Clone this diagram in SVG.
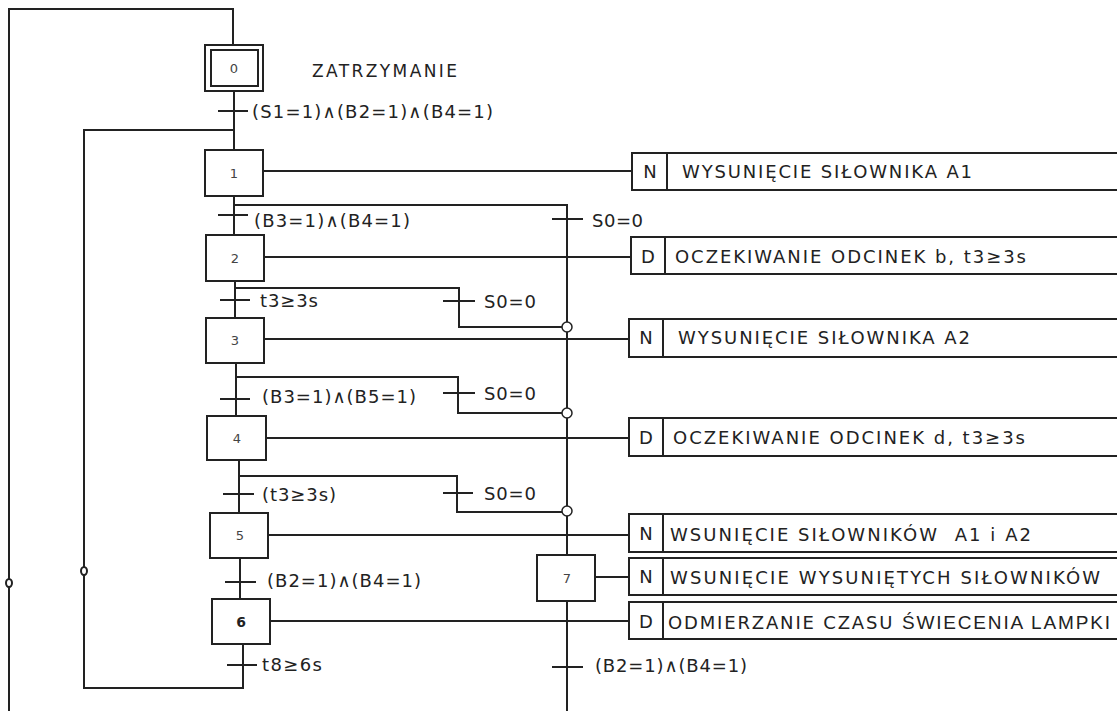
<svg xmlns="http://www.w3.org/2000/svg" width="1117" height="711" viewBox="0 0 1117 711">
<style>
.ln{fill:none;stroke:#222;stroke-width:2}
.bx{fill:#fff;stroke:#222;stroke-width:2}
.num{font-family:"DejaVu Sans",Verdana,sans-serif;font-size:13px;fill:#444;text-anchor:middle}
.lbl{font-family:"DejaVu Sans",Verdana,sans-serif;font-size:18px;fill:#222}
.act{font-family:"DejaVu Sans",Verdana,sans-serif;font-size:18px;fill:#222}
.q{font-family:"DejaVu Sans",Verdana,sans-serif;font-size:18px;fill:#222;text-anchor:middle}
.jn{fill:#fff;stroke:#222;stroke-width:1.5}
</style>
<rect width="1117" height="711" fill="#fff"/>
<g id="connectors">
<path class="ln" d="M9,711 V9 H233 V45"/>
<path class="ln" d="M243,644 V688 H84 V130 H234"/>
<path class="ln" d="M234,91 V150"/>
<path class="ln" d="M234,196 V235"/>
<path class="ln" d="M234,205 H567 V555"/>
<path class="ln" d="M235,281 V318"/>
<path class="ln" d="M235,288 H459 V327 H562"/>
<path class="ln" d="M236,363 V416"/>
<path class="ln" d="M236,377 H458 V413 H562"/>
<path class="ln" d="M239,460 V513"/>
<path class="ln" d="M239,476 H457 V512 H562"/>
<path class="ln" d="M240,558 V599"/>
<path class="ln" d="M567,601 V711"/>
<path class="ln" d="M263,171 H632 M264,257 H631 M264,339 H629 M266,438 H629 M268,535 H629 M595,577 H629 M270,621 H629"/>
<path class="ln" d="M218,111 H248 M218,215 H248 M552,219 H583 M220,300 H250 M443,301 H475 M220,399 H250 M443,393 H475 M223,494 H254 M443,493 H473 M225,582 H256 M227,665 H257 M552,667 H583"/>
<circle class="jn" cx="567" cy="327" r="5"/>
<circle class="jn" cx="567" cy="413" r="5"/>
<circle class="jn" cx="567" cy="511" r="5"/>
<ellipse cx="9" cy="583" rx="3" ry="4" fill="#fff" stroke="#222" stroke-width="2"/>
<ellipse cx="84" cy="571" rx="3" ry="4" fill="#fff" stroke="#222" stroke-width="2"/>
</g>
<g id="step0">
<rect class="bx" x="205" y="45" width="58" height="46"/>
<rect class="bx" x="211" y="50" width="47" height="36"/>
<text class="num" x="234" y="73">0</text>
<text class="lbl" x="312" y="77" textLength="145" lengthAdjust="spacing" style="font-size:17px">ZATRZYMANIE</text>
</g>
<g id="step1"><rect class="bx" x="205" y="150" width="58" height="46"/><text class="num" x="234" y="178">1</text></g>
<g id="step2"><rect class="bx" x="206" y="235" width="58" height="46"/><text class="num" x="235" y="263">2</text></g>
<g id="step3"><rect class="bx" x="206" y="318" width="58" height="45"/><text class="num" x="235" y="345">3</text></g>
<g id="step4"><rect class="bx" x="207" y="416" width="59" height="44"/><text class="num" x="237" y="443">4</text></g>
<g id="step5"><rect class="bx" x="210" y="513" width="58" height="45"/><text class="num" x="240" y="540">5</text></g>
<g id="step6"><rect class="bx" x="212" y="599" width="58" height="45"/><text class="num" x="241" y="627" style="font-weight:bold;fill:#222;font-size:14px">6</text></g>
<g id="step7"><rect class="bx" x="537" y="555" width="58" height="46"/><text class="num" x="567" y="583">7</text></g>
<g id="transitions">
<text class="lbl" x="252" y="118" textLength="241" lengthAdjust="spacing">(S1=1)∧(B2=1)∧(B4=1)</text>
<text class="lbl" x="254" y="227" textLength="156" lengthAdjust="spacing">(B3=1)∧(B4=1)</text>
<text class="lbl" x="592" y="227" textLength="51" lengthAdjust="spacing">S0=0</text>
<text class="lbl" x="260" y="307" textLength="58" lengthAdjust="spacing">t3≥3s</text>
<text class="lbl" x="484" y="308" textLength="52" lengthAdjust="spacing">S0=0</text>
<text class="lbl" x="262" y="403" textLength="154" lengthAdjust="spacing">(B3=1)∧(B5=1)</text>
<text class="lbl" x="484" y="400" textLength="52" lengthAdjust="spacing">S0=0</text>
<text class="lbl" x="262" y="501" textLength="74" lengthAdjust="spacing">(t3≥3s)</text>
<text class="lbl" x="484" y="500" textLength="52" lengthAdjust="spacing">S0=0</text>
<text class="lbl" x="267" y="587" textLength="154" lengthAdjust="spacing">(B2=1)∧(B4=1)</text>
<text class="lbl" x="262" y="671" textLength="60" lengthAdjust="spacing">t8≥6s</text>
<text class="lbl" x="595" y="672" textLength="152" lengthAdjust="spacing">(B2=1)∧(B4=1)</text>
</g>
<g id="action1"><rect class="bx" x="632" y="153" width="500" height="37"/><path class="ln" d="M667,153 V190"/><text class="q" x="650" y="178">N</text><text class="act" x="682" y="178" textLength="290" lengthAdjust="spacing">WYSUNIĘCIE SIŁOWNIKA A1</text></g>
<g id="action2"><rect class="bx" x="631" y="237" width="500" height="37"/><path class="ln" d="M665,237 V274"/><text class="q" x="648" y="263">D</text><text class="act" x="675" y="263" textLength="351" lengthAdjust="spacing">OCZEKIWANIE ODCINEK b, t3≥3s</text></g>
<g id="action3"><rect class="bx" x="629" y="319" width="500" height="38"/><path class="ln" d="M663,319 V357"/><text class="q" x="646" y="344">N</text><text class="act" x="678" y="344" textLength="292" lengthAdjust="spacing">WYSUNIĘCIE SIŁOWNIKA A2</text></g>
<g id="action4"><rect class="bx" x="629" y="418" width="500" height="38"/><path class="ln" d="M663,418 V456"/><text class="q" x="646" y="444">D</text><text class="act" x="673" y="444" textLength="352" lengthAdjust="spacing">OCZEKIWANIE ODCINEK d, t3≥3s</text></g>
<g id="action5"><rect class="bx" x="629" y="514" width="500" height="38"/><path class="ln" d="M663,514 V552"/><text class="q" x="646" y="540">N</text><text class="act" x="670" y="541" textLength="361" lengthAdjust="spacing" xml:space="preserve">WSUNIĘCIE SIŁOWNIKÓW  A1 i A2</text></g>
<g id="action6"><rect class="bx" x="629" y="558" width="500" height="37"/><path class="ln" d="M663,558 V595"/><text class="q" x="646" y="583">N</text><text class="act" x="670" y="584" textLength="430" lengthAdjust="spacing">WSUNIĘCIE WYSUNIĘTYCH SIŁOWNIKÓW</text></g>
<g id="action7"><rect class="bx" x="629" y="602" width="500" height="37"/><path class="ln" d="M663,602 V639"/><text class="q" x="646" y="628">D</text><text class="act" x="668" y="629" textLength="442" lengthAdjust="spacing">ODMIERZANIE CZASU <tspan style="font-family:'Liberation Sans',Arial,sans-serif;font-size:19px">ŚWIECENIA LAMPKI</tspan></text></g>
</svg>
